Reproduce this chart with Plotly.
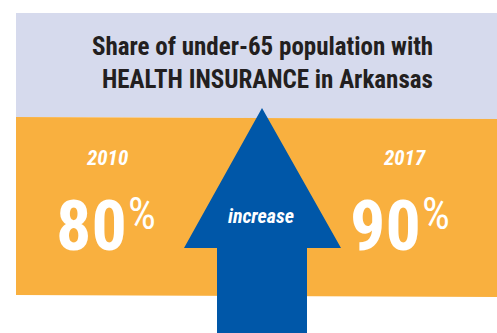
import plotly.graph_objects as go

title_lines = ["Share of under-65 population with", "HEALTH INSURANCE in Arkansas"]
years = ["2010", "2017"]
shares = [80, 90]
arrow_label = "increase"

W, H = 497, 333
LAV = "#d6daed"
ORANGE = "#f9b03f"
BLUE = "#0057a8"
DARK = "#231f20"
FONT = "Roboto Condensed, DejaVu Sans Condensed, sans-serif"

fig = go.Figure()
fig.update_layout(
    width=W, height=H, margin=dict(l=0, r=0, t=0, b=0),
    paper_bgcolor="white", plot_bgcolor="white",
    xaxis=dict(range=[0, W], visible=False, fixedrange=True),
    yaxis=dict(range=[H, 0], visible=False, fixedrange=True),
    showlegend=False,
)

shapes = [
    dict(type="path", path="M16,13 L497,13 L497,119 L16,117 Z",
         fillcolor=LAV, line=dict(width=0), layer="below"),
    dict(type="path", path="M16,117 L497,119 L497,297 L16,295 Z",
         fillcolor=ORANGE, line=dict(width=0), layer="below"),
    dict(type="path", path="M262,108 L341,248 L307,248 L307,333 L217,333 L217,248 L184,248 Z",
         fillcolor=BLUE, line=dict(width=0), layer="below"),
]
fig.update_layout(shapes=shapes)

ann = []
ann.append(dict(x=262, y=46, text=f"<b>{title_lines[0]}</b>", showarrow=False,
                font=dict(family=FONT, size=25, color=DARK), xanchor="center", yanchor="middle"))
ann.append(dict(x=267, y=79, text=f"<b>{title_lines[1]}</b>", showarrow=False,
                font=dict(family=FONT, size=25, color=DARK), xanchor="center", yanchor="middle"))

num_right = [129, 423]
yr_center = [107, 404]
for xr, xc, yr, v in zip(num_right, yr_center, years, shares):
    ann.append(dict(x=xc, y=158, text=f"<b><i>{yr}</i></b>", showarrow=False,
                    font=dict(family=FONT, size=21, color="white"), xanchor="center", yanchor="middle"))
    ann.append(dict(x=xr, y=226, text=f"<b>{v}</b>", showarrow=False,
                    font=dict(family=FONT, size=70, color="white"), xanchor="right", yanchor="middle"))
    ann.append(dict(x=xr - 2, y=214, text="%", showarrow=False, borderpad=0,
                    font=dict(family=FONT, size=44, color="white"), xanchor="left", yanchor="middle"))

ann.append(dict(x=261, y=216, text=f"<b><i>{arrow_label}</i></b>", showarrow=False,
                font=dict(family=FONT, size=20, color="white"), xanchor="center", yanchor="middle"))
fig.update_layout(annotations=ann)

fig.write_html("out.html", config={"displayModeBar": False},
               post_script="document.body.style.margin='0';")
